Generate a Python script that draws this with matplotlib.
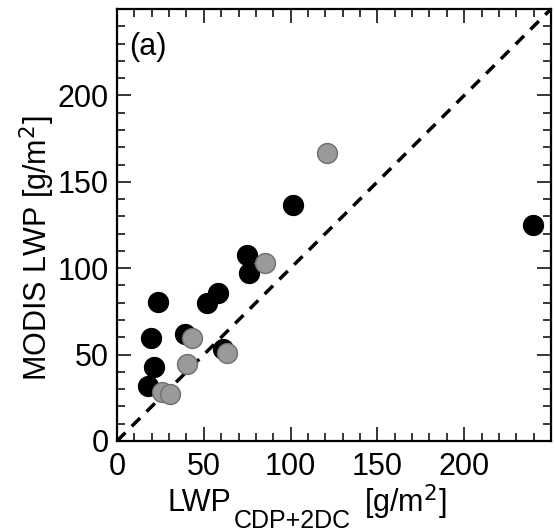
import numpy as np
import matplotlib
matplotlib.use("Agg")
from matplotlib import pyplot as plt

plt.rcParams['font.family'] = ['Liberation Sans', 'DejaVu Sans']

# black points
black_x = [17.7, 21.5, 19.4, 23.8, 39.2, 51.7, 58.4, 61.0, 74.7, 76.2, 101.6, 239.9]
black_y = [31.8, 43.0, 59.4, 80.6, 61.7, 79.7, 85.5, 53.5, 107.6, 97.0, 136.6, 125.0]
# grey points
grey_x = [25.7, 30.5, 40.1, 43.0, 63.2, 85.3, 120.8]
grey_y = [28.5, 27.2, 44.6, 59.4, 50.8, 102.8, 166.8]

ticks = [0, 50, 100, 150, 200]
one_to_one = [0, 250]

W, H = 555, 532
fig = plt.figure(figsize=(W / 100, H / 100), dpi=100)
ax = fig.add_axes([117 / W, 1 - 441 / H, 434 / W, 432 / H])

ax.plot(one_to_one, one_to_one, color='black', lw=2.5, linestyle=(0, (3.4, 2.6)), zorder=1)
ax.scatter(black_x, black_y, s=205, c='black', edgecolors='black', linewidths=1, zorder=2)
ax.scatter(grey_x, grey_y, s=205, c='#9a9a9a', edgecolors='#6e6e6e', linewidths=1.0, zorder=3)

ax.set_xlim(0, 250)
ax.set_ylim(0, 250)
ax.set_xticks(ticks)
ax.set_yticks(ticks)
ax.set_xticks(np.arange(0, 251, 10), minor=True)
ax.set_yticks(np.arange(0, 251, 10), minor=True)
ax.tick_params(which='both', direction='in', top=True, right=True, width=1.1, color='black')
ax.tick_params(which='major', length=10, labelsize=22)
ax.tick_params(axis='x', which='major', pad=8)
ax.tick_params(axis='y', which='major', pad=6)
ax.tick_params(which='minor', length=5.5)
for sp in ax.spines.values():
    sp.set_linewidth(1.6)

fig.text(129 / W, 1 - 47 / H, '(a)', fontsize=22, ha='left', va='center')

# y label
fig.text(37 / W, 1 - 248 / H, 'MODIS LWP [g/m$^2$]', rotation=90,
         ha='center', va='center', fontsize=22)

# x label built from pieces
fig.text(167 / W, 1 - 511 / H, 'LWP', fontsize=22, ha='left', va='baseline')
fig.text(234 / W, 1 - 528 / H, 'CDP+2DC', fontsize=18, ha='left', va='baseline')
fig.text(364 / W, 1 - 512 / H, '[g/m$^2$]', fontsize=22, ha='left', va='baseline')

fig.savefig('out.png', dpi=100)
